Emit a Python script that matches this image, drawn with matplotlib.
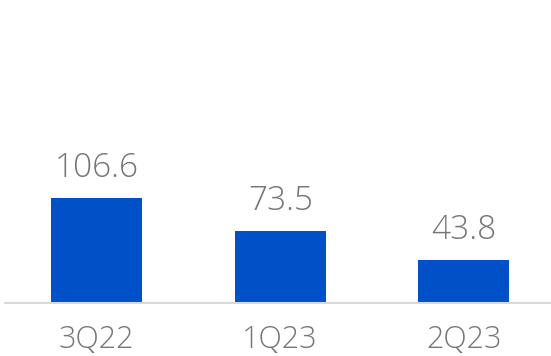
import matplotlib
matplotlib.use("Agg")
import matplotlib.pyplot as plt

categories = ["3Q22", "1Q23", "2Q23"]
values = [106.6, 73.5, 43.8]
value_labels = ["106.6", "73.5", "43.8"]

bar_color = "#0050C8"
text_color = "#767676"
font = ["Open Sans", "DejaVu Sans"]

fig = plt.figure(figsize=(5.51, 3.56), dpi=100)
ax = fig.add_axes([5 / 551, 53 / 356, 550.5 / 551, 303 / 356])
x = list(range(len(categories)))
ax.bar(x, values, width=0.496, color=bar_color, zorder=2)
ax.set_xlim(-0.5, 2.5)
ax.set_ylim(0, 307.6)
for xi, v, lab in zip(x, values, value_labels):
    ax.annotate(lab, (xi, v), xytext=(0, 9), textcoords="offset points",
                ha="center", va="bottom", fontsize=24, color=text_color,
                family=font, fontweight="light")
ax.set_xticks(x)
ax.set_xticklabels(categories, fontsize=22, color=text_color, family=font, fontweight="light")
ax.tick_params(axis="x", length=0, pad=15)
ax.set_yticks([])
for s in ["top", "right", "left"]:
    ax.spines[s].set_visible(False)
ax.spines["bottom"].set_color("#d9d9d9")
ax.spines["bottom"].set_linewidth(1.5)
fig.savefig("out.png", dpi=100)
